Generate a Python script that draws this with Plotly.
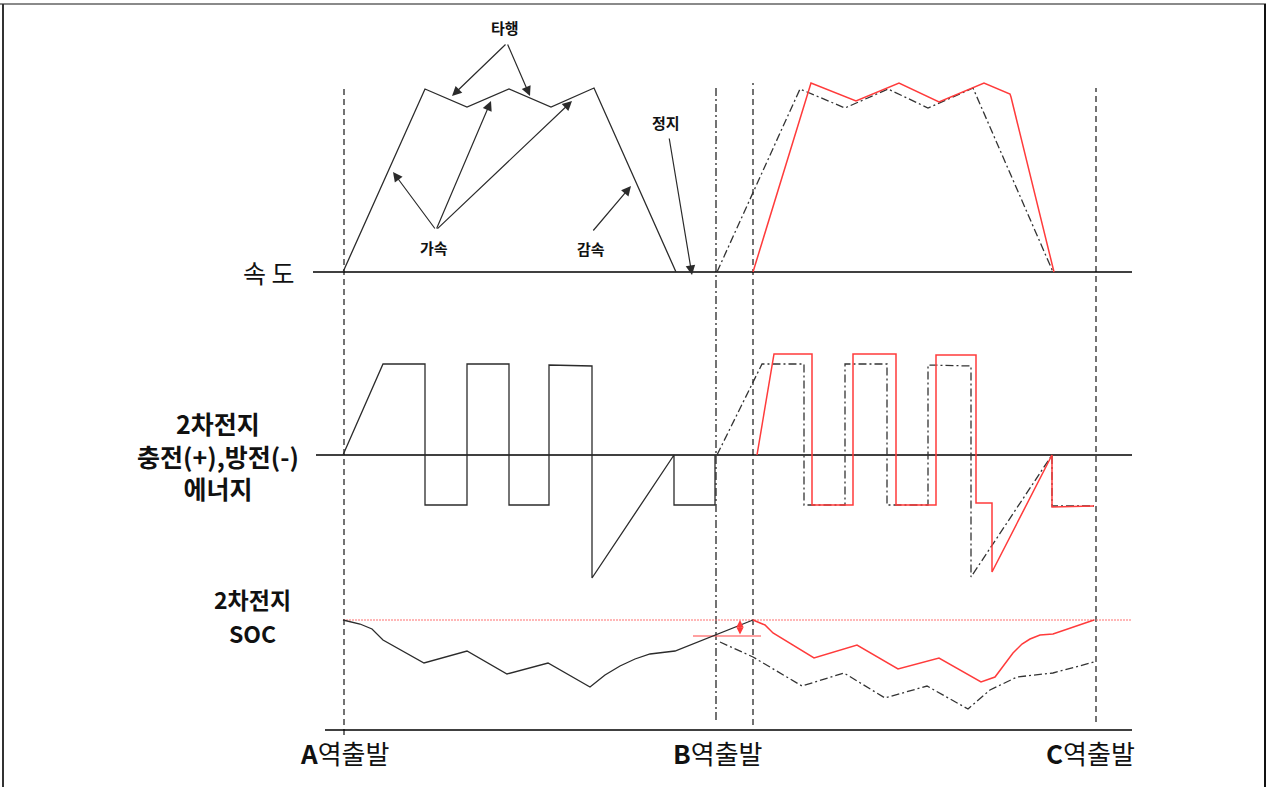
import plotly.graph_objects as go

# ---------------- data (time axis = horizontal position along the trip) ----------------
# Speed panel (value 0 = stopped)
speed_a_t = [343, 425, 467, 509, 551, 594, 676]
speed_a_v = [0, 183, 165, 183, 165, 184, 0]
speed_b_t = [717, 800, 845, 888, 928, 973, 1053]
speed_b_v = [0, 183, 164, 183, 164, 184, 0]
speed_c_t = [753, 811, 856, 899, 939, 984, 1010, 1011, 1054]
speed_c_v = [0, 189, 171, 189, 170, 189, 178, 175, 0]

# Battery charge(+)/discharge(-) energy panel
energy_a_t = [343, 383, 425, 425, 467, 467, 509, 509, 549, 549, 592, 592, 674, 674, 715, 715]
energy_a_v = [0, 91, 91, -50, -50, 91, 91, -50, -50, 90, 89, -123, 0, -50, -50, 0]
energy_b_t = [717, 762, 804, 804, 845, 845, 887, 887, 928, 928, 971, 971, 1052, 1052, 1094]
energy_b_v = [0, 91, 91, -50, -50, 91, 91, -50, -50, 90, 89, -122, 0, -51, -51]
energy_c_t = [757, 774, 812, 812, 853, 853, 896, 896, 936, 936, 976, 976, 992, 992, 1052, 1052, 1094]
energy_c_v = [0, 101, 101, -50, -50, 101, 101, -50, -50, 100, 100, -48, -48, -117, 0, -52, -51]

# Battery SOC panel
soc_a_t = [343, 360, 372, 383, 424, 467, 507, 548, 590, 605, 620, 635, 650, 675, 753]
soc_a_v = [110, 106, 101, 90, 67, 79, 56, 67, 43, 55, 64, 71, 76, 79, 110]
soc_b_t = [720, 753, 802, 844, 885, 927, 968, 990, 1017, 1053, 1094]
soc_b_v = [88, 73, 44, 57, 32, 44, 21, 40, 53, 57, 68]
soc_c_t = [753, 765, 773, 814, 857, 898, 939, 981, 995, 1005, 1013, 1022, 1030, 1040, 1053, 1094]
soc_c_v = [110, 105, 97, 72, 85, 61, 72, 48, 53, 67, 77, 86, 91, 95, 96, 110]
soc_full = 110
soc_gap = 94

# Station / event markers
station_t = [344, 716, 753, 1096]
station_dash = ["6px,4px", "8px,3px,2px,3px", "6px,4px", "6px,4px"]
station_top = [184, 184, 189, 184]         # speed units
station_bottom = [-463, -448, -453, -450]  # speed units
station_labels = ["A", "B", "C"]
station_label_t = [344, 717, 1090]

axis_span = [313, 1132]
soc_axis_span = [325, 1132]

BLACK = "#2b2b2b"
RED = "#ff3b3b"
FONT = "Noto Sans CJK KR"

fig = go.Figure()

def line(t, v, axis, color, width=1.3, dash="solid", shape="linear"):
    fig.add_trace(go.Scatter(x=t, y=v, yaxis=axis, mode="lines",
                             line=dict(color=color, width=width, dash=dash, shape=shape),
                             hoverinfo="skip"))

# baselines
line(axis_span, [0, 0], "y", "#000000", 1.5)
line([316, axis_span[1]], [0, 0], "y2", "#000000", 1.5)
line(soc_axis_span, [0, 0], "y3", "#000000", 1.5)

# reference SOC line
line([343, axis_span[1]], [soc_full, soc_full], "y3", "#ff7070", 1.2, "2px,1px")
line([693, 761], [soc_gap, soc_gap], "y3", "#ff8080", 1.5)

# speed
line(speed_a_t, speed_a_v, "y", BLACK)
line(speed_b_t, speed_b_v, "y", "#333333", 1.3, "8px,3px,2px,3px")
line(speed_c_t, speed_c_v, "y", RED, 1.5)
# energy
line(energy_a_t, energy_a_v, "y2", BLACK)
line(energy_b_t, energy_b_v, "y2", "#333333", 1.3, "8px,3px,2px,3px")
line(energy_c_t, energy_c_v, "y2", RED, 1.5)
# soc
line(soc_a_t, soc_a_v, "y3", BLACK)
line(soc_b_t, soc_b_v, "y3", "#333333", 1.3, "8px,3px,2px,3px")
line(soc_c_t, soc_c_v, "y3", RED, 1.5)

shapes = []
for t, d, top, bot in zip(station_t, station_dash, station_top, station_bottom):
    shapes.append(dict(type="line", xref="x", yref="y", x0=t, x1=t, y0=bot, y1=top,
                       line=dict(color="#444444", width=1.5, dash=d), layer="below"))
# frame
shapes.append(dict(type="line", xref="paper", yref="paper", x0=0, x1=1, y0=1 - 4 / 787, y1=1 - 4 / 787,
                   line=dict(color="#8a8a8a", width=2)))
shapes.append(dict(type="line", xref="paper", yref="paper", x0=3 / 1266, x1=3 / 1266, y0=0, y1=1 - 4 / 787,
                   line=dict(color="#333333", width=2)))
shapes.append(dict(type="line", xref="paper", yref="paper", x0=1265 / 1266, x1=1265 / 1266, y0=0, y1=1 - 4 / 787,
                   line=dict(color="#111111", width=2)))

ann = []

def arrow(x, y, ax, ay, yref="y", color=BLACK, side="end", size=1.6, width=1.2):
    ann.append(dict(x=x, y=y, ax=ax, ay=ay, xref="x", yref=yref, axref="x", ayref=yref,
                    text="", showarrow=True, arrowhead=2, arrowsize=size, arrowwidth=width,
                    arrowcolor=color, arrowside=side, standoff=0, startstandoff=0))

def text(x, y, s, yref="y", size=15, xanchor="center", color="#111111"):
    ann.append(dict(x=x, y=y, xref="x", yref=yref, text=s, showarrow=False,
                    xanchor=xanchor, yanchor="middle", align="center",
                    font=dict(family=FONT, size=size, color=color)))

# speed annotations (speed units)
text(505, 245, "<b>타행</b>")
arrow(452, 176, 507, 229)
arrow(530, 176, 507, 229)
text(434, 25, "<b>가속</b>")
arrow(393, 100, 436, 42)
arrow(491, 171, 436, 42)
arrow(572, 171, 436, 42)
text(591, 24, "<b>감속</b>")
arrow(631, 86, 592, 40)
text(666, 150, "<b>정지</b>")
arrow(692, -3, 669, 135)

# SOC gap double arrow
arrow(740, soc_full, 740, soc_gap, yref="y3", color=RED, side="end+start", size=1.2, width=1.2)

# left labels
text(297, 0, "속 도", yref="y", size=25, xanchor="right")
text(218, 0, "<b>2차전지<br>충전(+),방전(-)<br>에너지</b>", yref="y2", size=25)
text(252, 131, "<b>2차전지</b>", yref="y3", size=23)
text(252, 97, "<b>SOC</b>", yref="y3", size=23)

# station labels
for lab, t in zip(station_labels, station_label_t):
    text(t, -22, "<b>" + lab + "</b>역출발", yref="y3", size=26)

fig.update_layout(
    width=1266, height=787,
    margin=dict(l=0, r=0, t=0, b=0),
    paper_bgcolor="white", plot_bgcolor="white",
    showlegend=False,
    xaxis=dict(range=[0, 1266], visible=False, fixedrange=True),
    yaxis=dict(range=[272 - 787, 272], visible=False, fixedrange=True),
    yaxis2=dict(range=[455 - 787, 455], visible=False, overlaying="y", fixedrange=True),
    yaxis3=dict(range=[730 - 787, 730], visible=False, overlaying="y", fixedrange=True),
    shapes=shapes,
    annotations=ann,
)

fig.write_html("out.html", config={"displayModeBar": False},
               post_script="document.body.style.margin='0';document.body.style.overflow='hidden';")
